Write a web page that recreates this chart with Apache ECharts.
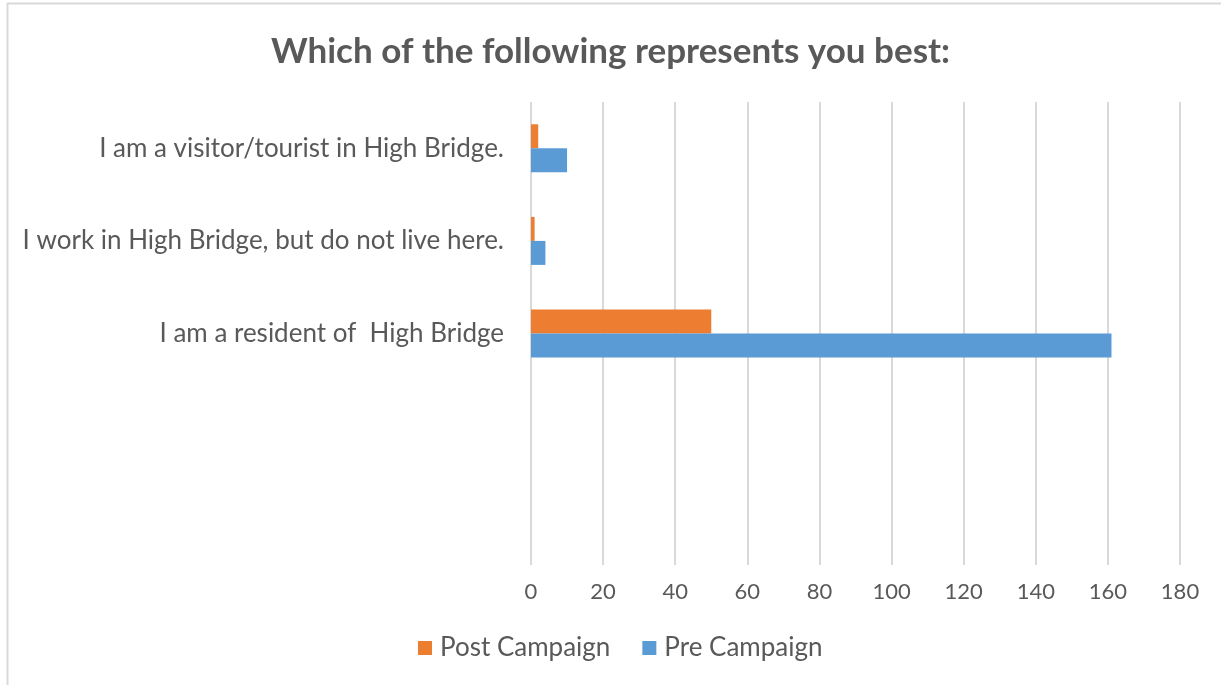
<!DOCTYPE html>
<html>
<head>
<meta charset="utf-8">
<script src="https://cdn.jsdelivr.net/npm/echarts@6/dist/echarts.min.js"></script>
<style>
  html, body { margin: 0; padding: 0; background: #fff; }
  #chart { width: 1221px; height: 685px; }
</style>
</head>
<body>
<div id="chart"></div>
<script>
// Answer options, listed from the bottom of the axis upward (two empty slots at the bottom)
const categories = ['', ' ', 'I am a resident of  High Bridge', 'I work in High Bridge, but do not live here.', 'I am a visitor/tourist in High Bridge.'];
const postCampaign = [null, null, 50, 1, 2];
const preCampaign = [null, null, 161, 4, 10];
const xTicks = { min: 0, max: 180, interval: 20 };

const FONT = 'Lato, "Open Sans", sans-serif';
const TEXT = '#595959';

const chart = echarts.init(document.getElementById('chart'), null, { renderer: 'canvas' });
chart.setOption({
  backgroundColor: '#ffffff',
  animation: false,
  graphic: [{
    type: 'rect',
    shape: { x: 7.5, y: 3.5, width: 1230, height: 700 },
    style: { fill: 'none', stroke: '#d9d9d9', lineWidth: 2 },
    silent: true
  }],
  title: {
    text: 'Which of the following represents you best:',
    left: 'center',
    top: 29,
    textStyle: { fontFamily: FONT, fontSize: 35, fontWeight: 'bold', color: TEXT }
  },
  legend: {
    bottom: 19,
    left: 413,
    itemWidth: 14,
    itemHeight: 14,
    itemGap: 32,
    icon: 'rect',
    data: ['Post Campaign', 'Pre Campaign'],
    textStyle: { fontFamily: FONT, fontSize: 26, color: TEXT, padding: [0, 0, 0, 3] }
  },
  grid: { left: 531, right: 41, top: 102, bottom: 120, containLabel: false },
  xAxis: {
    type: 'value',
    min: xTicks.min,
    max: xTicks.max,
    interval: xTicks.interval,
    axisLine: { show: false },
    axisTick: { show: false },
    axisLabel: { fontFamily: FONT, fontSize: 22, color: TEXT, margin: 16 },
    splitLine: { show: true, lineStyle: { color: '#d9d9d9', width: 2 } }
  },
  yAxis: {
    type: 'category',
    data: categories,
    axisLine: { show: false },
    axisTick: { show: false },
    axisLabel: { fontFamily: FONT, fontSize: 26, color: TEXT, margin: 27 }
  },
  series: [
    {
      name: 'Post Campaign',
      type: 'bar',
      data: postCampaign,
      barWidth: 24,
      barGap: '0%',
      itemStyle: { color: '#ed7d31' }
    },
    {
      name: 'Pre Campaign',
      type: 'bar',
      data: preCampaign,
      barWidth: 24,
      barGap: '0%',
      itemStyle: { color: '#5b9bd5' }
    }
  ]
});
</script>
</body>
</html>
